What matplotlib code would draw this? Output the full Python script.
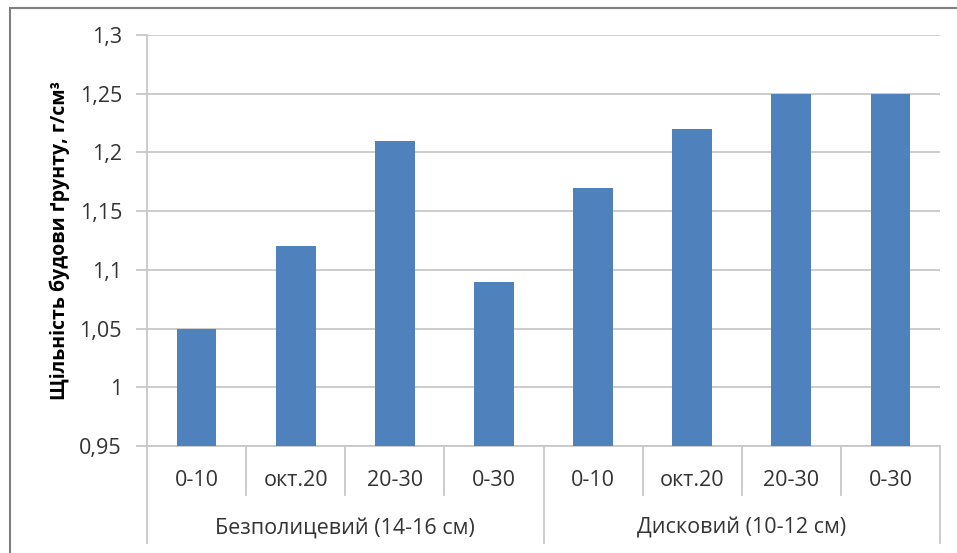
import matplotlib.pyplot as plt
from matplotlib.patches import Rectangle
from matplotlib.transforms import blended_transform_factory

plt.rcParams['font.family'] = ['Open Sans', 'DejaVu Sans']

# soil bulk density by layer for two tillage methods
groups = ['Безполицевий (14-16 см)', 'Дисковий (10-12 см)']
layers = ['0-10', 'окт.20', '20-30', '0-30']
density_bezpol = [1.05, 1.12, 1.21, 1.09]
density_disk = [1.17, 1.22, 1.25, 1.25]
yticks = [0.95, 1.0, 1.05, 1.1, 1.15, 1.2, 1.25, 1.3]
ylabel = 'Щільність будови ґрунту, г/см³'

values = density_bezpol + density_disk
labels = layers + layers
x = list(range(len(values)))

W, H = 957, 553
fig = plt.figure(figsize=(W / 100, H / 100), dpi=100)
fig.patch.set_facecolor('white')

# outer chart frame (cut off at right and bottom)
fig.add_artist(Rectangle((10 / W, -0.1), 1.2, 1.1 - 8 / H, transform=fig.transFigure,
                         fill=False, edgecolor='#7f7f7f', linewidth=1.5))

left, right, top, bottom = 147, 940, 35, 446
ax = fig.add_axes([left / W, 1 - bottom / H, (right - left) / W, (bottom - top) / H])

grid_c = '#c8c8c8'
text_c = '#333333'
fs = 15.5

ax.bar(x, values, width=0.4, color='#4f81bd', zorder=3)
ax.set_xlim(-0.5, len(values) - 0.5)
ax.set_ylim(0.95, 1.3)
ax.set_yticks(yticks)
ax.set_yticklabels([('%g' % v).replace('.', ',') for v in yticks])
ax.yaxis.grid(True, color=grid_c, linewidth=1.3, zorder=0)
ax.tick_params(axis='y', length=8, width=1.3, color=grid_c, labelsize=fs,
               labelcolor=text_c, pad=10)
ax.set_xticks([])
for s in ['top', 'right']:
    ax.spines[s].set_visible(False)
for s in ['left', 'bottom']:
    ax.spines[s].set_color(grid_c)
    ax.spines[s].set_linewidth(1.3)

ax.set_ylabel(ylabel, fontsize=14, fontweight='bold', color='black', labelpad=7)

# two-level category axis
axh = bottom - top
tr = blended_transform_factory(ax.transData, ax.transAxes)
sub_end = -49 / axh
grp_end = -97 / axh
n = len(layers)
for i in range(len(values) + 1):
    xb = i - 0.5
    yb = grp_end if i % n == 0 else sub_end
    ax.plot([xb, xb], [0, yb], color=grid_c, linewidth=1.3, transform=tr, clip_on=False)
for i, lab in enumerate(labels):
    ax.text(i, -34 / axh, lab, transform=tr, ha='center', va='center',
            fontsize=fs, color=text_c)
for g, name in enumerate(groups):
    ax.text(g * n + (n - 1) / 2, -82 / axh, name, transform=tr, ha='center', va='center',
            fontsize=fs, color=text_c)

fig.savefig('out.png', dpi=100, facecolor='white')
